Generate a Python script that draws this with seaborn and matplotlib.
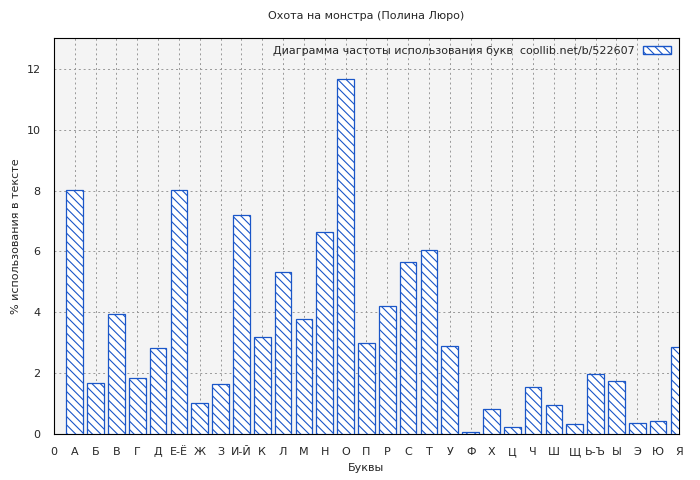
import pandas as pd
import seaborn as sns
import matplotlib.pyplot as plt
from matplotlib.patches import Patch

letters = ["А", "Б", "В", "Г", "Д", "Е-Ё", "Ж", "З", "И-Й", "К", "Л", "М", "Н", "О", "П",
           "Р", "С", "Т", "У", "Ф", "Х", "Ц", "Ч", "Ш", "Щ", "Ь-Ъ", "Ы", "Э", "Ю", "Я"]
percent = [8.02, 1.68, 3.95, 1.85, 2.82, 8.02, 1.02, 1.65, 7.18, 3.18, 5.33, 3.78, 6.65, 11.68, 2.98,
           4.20, 5.65, 6.05, 2.88, 0.07, 0.82, 0.22, 1.55, 0.95, 0.33, 1.98, 1.73, 0.35, 0.42, 2.87]

df = pd.DataFrame({"pos": range(1, len(letters) + 1), "pct": percent})

sns.set_theme(style="white")
plt.rcParams["font.family"] = ["DejaVu Sans"]
plt.rcParams["hatch.color"] = "#1a56c8"
plt.rcParams["hatch.linewidth"] = 0.8

fig, ax = plt.subplots(figsize=(7, 4.8), dpi=100)
fig.patch.set_facecolor("white")
ax.set_facecolor("#f4f4f4")

ax.bar(df["pos"], df["pct"], width=0.8, color="white", edgecolor="#1a56c8",
       linewidth=0.9, hatch="\\\\\\\\", zorder=3)

ax.set_xlim(0, len(letters))
ax.set_ylim(0, 13)
ax.set_xticks(range(0, len(letters) + 1))
ax.set_xticklabels(["0"] + letters, fontsize=8)
ax.set_yticks(range(0, 13, 2))
ax.tick_params(axis="y", labelsize=8)
ax.grid(True, color="#999999", linestyle=(0, (2, 3)), linewidth=0.7, zorder=0)
for s in ax.spines.values():
    s.set_color("black")
    s.set_linewidth(0.8)

ax.set_xlabel("Буквы", fontsize=8)
ax.set_ylabel("% использования в тексте", fontsize=8)
ax.set_title("Охота на монстра (Полина Люро)", fontsize=8, pad=14)

handle = Patch(facecolor="white", edgecolor="#1a56c8", hatch="\\\\\\\\")
ax.legend([handle], ["Диаграмма частоты использования букв  coollib.net/b/522607"],
          loc="upper right", fontsize=8, frameon=False, markerfirst=False,
          handlelength=2.5, borderaxespad=0.3)

plt.subplots_adjust(left=0.077, right=0.97, top=0.92, bottom=0.096)
plt.savefig("out.png", dpi=100)
